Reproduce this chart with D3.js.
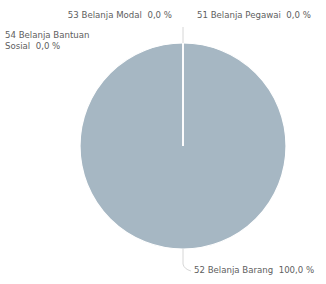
<!DOCTYPE html>
<html>
<head>
<meta charset="utf-8">
<script src="https://cdn.jsdelivr.net/npm/d3@7"></script>
<style>
  body { margin: 0; background: #fff; }
  svg text { font-family: "DejaVu Sans", sans-serif; font-size: 8.6px; fill: #606060; white-space: pre; }
</style>
</head>
<body>
<svg id="chart" width="326" height="284"></svg>
<script>
// data
const categories = ['51 Belanja Pegawai', '52 Belanja Barang', '53 Belanja Modal', '54 Belanja Bantuan Sosial'];
const values = [0, 100, 0, 0];
const percentLabels = ['0,0 %', '100,0 %', '0,0 %', '0,0 %'];

const width = 326, height = 284;
const cx = 183, cy = 146, r = 103;

const svg = d3.select('svg#chart');
const g = svg.append('g').attr('transform', `translate(${cx},${cy})`);

const data = categories.map((c, i) => ({ name: c, value: values[i], pct: percentLabels[i] }));

const pie = d3.pie().sort(null).value(d => d.value);
const arcs = pie(data);
const arc = d3.arc().innerRadius(0).outerRadius(r);

g.selectAll('path.slice')
  .data(arcs)
  .enter().append('path')
  .attr('class', 'slice')
  .attr('d', arc)
  .attr('fill', '#a6b7c3')
  .attr('stroke', '#fff')
  .attr('stroke-width', 1.2);

// white separator at 0 (zero-width slices meet the big one)
g.append('line')
  .attr('x1', 0).attr('y1', 0)
  .attr('x2', 0).attr('y2', -r)
  .attr('stroke', '#fff')
  .attr('stroke-width', 1.5);

// leader lines + labels
const leaders = g.append('g').attr('fill', 'none').attr('stroke', '#cccccc').attr('stroke-width', 0.8);
// top leader (zero slices)
leaders.append('path').attr('d', `M0,${-r} L0,${-r - 16}`);
// bottom leader (Barang)
leaders.append('path').attr('d', `M0,${r} L0,${r + 15} Q1,${r + 20} 8,${r + 22}`);

const lab = svg.append('g');
lab.append('text').attr('x', 197).attr('y', 18).text(`${categories[0]}  ${percentLabels[0]}`);
lab.append('text').attr('x', 172).attr('y', 18).attr('text-anchor', 'end').text(`${categories[2]}  ${percentLabels[2]}`);
lab.append('text').attr('x', 5).attr('y', 38).text('54 Belanja Bantuan');
lab.append('text').attr('x', 5).attr('y', 49).text(`Sosial  ${percentLabels[3]}`);
lab.append('text').attr('x', 194).attr('y', 273).text(`${categories[1]}  ${percentLabels[1]}`);
</script>
</body>
</html>
